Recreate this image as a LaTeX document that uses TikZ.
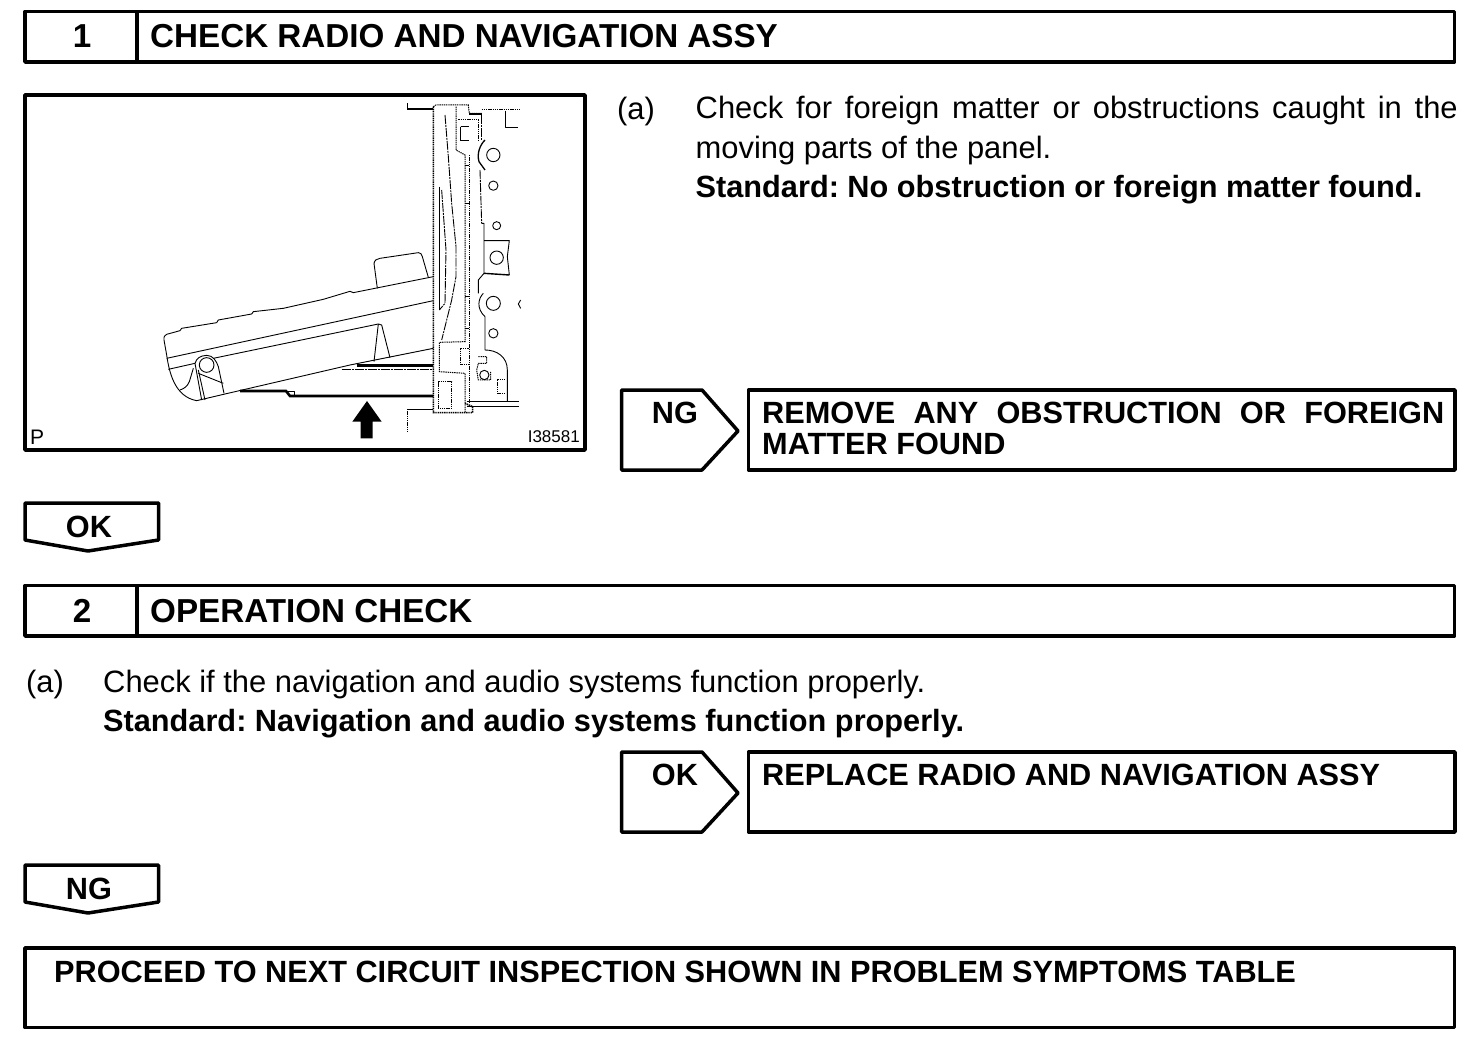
\documentclass[tikz,border=0pt]{standalone}
\usepackage{fontspec}
\setmainfont{Liberation Sans}
\begin{document}
\frenchspacing
\begin{tikzpicture}[x=1pt,y=-1pt,
  box/.style={draw=black,line width=3.5pt,line join=round},
  cellbox/.style={box,anchor=north west,inner sep=0pt,outer sep=0pt},
  head/.style={font=\fontsize{33.2}{33.2}\selectfont\bfseries,inner sep=0pt,anchor=base west},
  sub/.style={font=\fontsize{30.7}{30.7}\selectfont\bfseries,inner sep=0pt,anchor=base west},
  body/.style={font=\fontsize{30.9}{39.5}\selectfont,inner sep=0pt,anchor=north west},
  bodyb/.style={font=\fontsize{30.7}{39.5}\selectfont\bfseries,inner sep=0pt,anchor=base west},
  fine/.style={line width=0.9pt,line join=round},
  dotl/.style={line width=1pt,dash pattern=on 1.4pt off 0.8pt},
  dashl/.style={line width=0.9pt,dash pattern=on 9pt off 1pt on 2pt off 1pt},
  heavy/.style={line width=2.6pt}]
\useasboundingbox (0,0) rectangle (1472,1040);
\fill[white] (0,0) rectangle (1472,1040);
% header 1
\node[cellbox,minimum width=112pt,minimum height=50.5pt] (numA) at (25,11.5) {};
\node[cellbox,minimum width=1317.5pt,minimum height=50.5pt] (titleA) at (137,11.5) {};
\node[head,anchor=base] (numAt) at (82,48) {1};
\node[head] (titleAt) at (150,48) {CHECK RADIO AND NAVIGATION ASSY};
% figure frame
\node[cellbox,minimum width=560pt,minimum height=355pt] (figure) at (25,95) {};
\begin{scope}[shift={(150,90)},xscale=1/3,yscale=1/3]
% panel
\draw[fine] (682,595) -- (672,520) .. controls (674,510) and (680,507) .. (690,505) -- (805,488) .. controls (812,488) and (815,492) .. (817,500) -- (835,562);
\draw[fine] (850,560) -- (610,608) -- (600,604) -- (520,628) -- (400,655) -- (310,665) -- (305,672) -- (205,690) -- (200,698) -- (95,715) -- (90,722) -- (50,733) .. controls (44,735) and (41,740) .. (42,750) -- (50,795) .. controls (58,850) and (75,920) .. (140,932) -- (225,912) -- (600,825) -- (850,775);
\draw[fine] (50,805) -- (850,632);
\draw[fine] (55,838) -- (135,820);
\draw[fine] (190,805) -- (685,702) -- (695,705) -- (720,803);
\draw[fine] (685,702) -- (672,815);
\draw[fine] (170,825) circle[radius=22];
\draw[fine] (135,820) .. controls (140,805) and (150,797) .. (170,796) .. controls (190,796) and (200,815) .. (205,830) -- (222,910);
\draw[fine] (135,820) -- (155,930) (145,840) -- (165,930);
\draw[fine] (130,835) -- (118,875) .. controls (112,890) and (100,897) .. (90,900);
\draw[fine] (145,850) -- (220,880);
\draw[heavy] (620,826) -- (850,826);
\draw[dashl] (575,837) -- (850,837);
\draw[heavy] (270,903) -- (408,903) -- (420,918) -- (850,918);
\draw[fine] (415,903) -- (433,903) -- (433,915);
% housing
\draw[dotl,line width=1.6pt] (850,50) -- (850,968) -- (968,968) -- (968,950) -- (945,940);
\draw[dotl] (850,50) -- (858,45) -- (955,45) -- (958,70) -- (995,70);
\draw[heavy,line width=1.4pt] (772,40) -- (772,57) -- (850,57);
\draw[heavy,line width=1.4pt] (958,72) -- (995,72);
\draw[dotl] (995,60) -- (1112,60);
\draw[fine] (1067,62) -- (1067,113) -- (1105,113);
\draw[dashl] (885,75) -- (895,200) -- (905,340) -- (918,470) -- (918,560) -- (905,630) -- (875,750);
\draw[fine,line width=1.2pt] (868,290) -- (868,660);
\draw[dashl] (875,300) -- (888,480) -- (885,640) -- (868,660);
\draw[dotl] (918,50) -- (918,180) -- (945,195) -- (945,755) -- (868,757) -- (868,845) -- (945,850) -- (945,968);
\draw[fine] (932,110) -- (958,110) (932,110) -- (932,152);
\draw[heavy,line width=1.4pt] (932,152) -- (958,152);
\draw[dotl] (925,90) -- (985,90) -- (985,150);
\draw[dotl] (958,195) -- (958,940);
\draw[dashl] (995,75) -- (995,150);
\draw[fine,line width=1.3pt] (1005,150) .. controls (990,165) and (980,190) .. (987,215) -- (1005,240);
\draw[dashl] (990,240) -- (995,400);
\draw[fine] (995,400) -- (1002,400) -- (1002,550) -- (985,570) -- (985,610);
\draw[fine] (1000,610) .. controls (985,625) and (978,655) .. (1005,680) -- (1005,780) .. controls (1040,780) and (1072,800) .. (1072,840) -- (1072,935);
\draw[fine] (945,225) -- (958,225) (945,340) -- (958,340) (945,620) -- (958,620) (945,715) -- (958,715);
\draw[fine] (1002,452) -- (1078,452) -- (1072,500) -- (1078,555);
\draw[heavy,line width=1.4pt] (1002,550) -- (1078,555);
\draw[fine] (1030,195) circle[radius=20];
\draw[fine] (1030,287) circle[radius=14];
\draw[fine] (1040,407) circle[radius=12];
\draw[fine] (1040,503) circle[radius=20];
\draw[fine] (1030,640) circle[radius=21];
\draw[fine] (1030,730) circle[radius=14];
\draw[fine] (1003,855) circle[radius=14];
\draw[fine] (1112,630) -- (1105,642) -- (1112,655);
\draw[dotl] (985,800) -- (1010,800) -- (1010,820) -- (985,820) -- (980,840) -- (985,870) -- (1022,870) -- (1022,845);
\draw[dotl] (1042,870) -- (1065,870) (1042,870) -- (1042,910) -- (1065,910);
\draw[fine] (950,935) -- (1108,935) (950,948) -- (1108,948);
\draw[dotl] (932,775) -- (958,775) (932,775) -- (932,825) -- (958,825);
\draw[dotl] (865,875) -- (905,875) -- (905,955) -- (865,955) -- cycle;
\draw[fine] (772,957) -- (850,957);
\draw[dotl] (772,957) -- (772,1025);
\fill[black] (651,933) -- (695,995) -- (668,995) -- (668,1045) -- (632,1045) -- (632,995) -- (607,995) -- cycle;
\end{scope}
\node[font=\fontsize{21}{21}\selectfont,inner sep=0pt,anchor=base west] (figP) at (30,444) {P};
\node[font=\fontsize{17}{17}\selectfont,inner sep=0pt,anchor=base east] (figId) at (580,442) {I38581};
% step (a)
\node[body,anchor=base west] (aA) at (617,120) {(a)};
\node[body,text width=762pt,align=justify] (textA) at (695.5,96) {Check for foreign matter or obstructions caught in the moving parts of the panel.\\ {\fontsize{30.7}{39.5}\selectfont\bfseries Standard: No obstruction or foreign matter found.}};
% NG flag
\draw[box] (621.5,390) -- (702,390) -- (738,431) -- (702,470) -- (621.5,470) -- cycle;
\node[sub,anchor=base] (ngA) at (675,423) {NG};
\node[cellbox,minimum width=706.5pt,minimum height=80pt] (resA) at (748.5,390) {};
\node[sub,anchor=north west,text width=682pt,align=justify,font=\fontsize{30.7}{31}\selectfont\bfseries] (resAt) at (762,402) {REMOVE ANY OBSTRUCTION OR FOREIGN MATTER FOUND};
% OK down flag
\draw[box] (25,503) -- (158.5,503) -- (158.5,540) -- (88,551) -- (25,540) -- cycle;
\node[sub,anchor=base] (okA) at (89,537) {OK};
% header 2
\node[cellbox,minimum width=112pt,minimum height=50.5pt] (numB) at (25,585.5) {};
\node[cellbox,minimum width=1317.5pt,minimum height=50.5pt] (titleB) at (137,585.5) {};
\node[head,anchor=base] (numBt) at (82,622) {2};
\node[head] (titleBt) at (150,622) {OPERATION CHECK};
% step 2 (a)
\node[body,anchor=base west] (aB) at (26,692) {(a)};
\node[body,anchor=base west] (textB) at (103,692) {Check if the navigation and audio systems function properly.};
\node[bodyb] (stdB) at (103,731) {Standard: Navigation and audio systems function properly.};
% OK flag
\draw[box] (621.5,752) -- (702,752) -- (738,793) -- (702,832) -- (621.5,832) -- cycle;
\node[sub,anchor=base] (okB) at (675,785) {OK};
\node[cellbox,minimum width=706.5pt,minimum height=80pt] (resB) at (748.5,752) {};
\node[sub] (resBt) at (762,785) {REPLACE RADIO AND NAVIGATION ASSY};
% NG down flag
\draw[box] (25,865) -- (158.5,865) -- (158.5,902) -- (88,913) -- (25,902) -- cycle;
\node[sub,anchor=base] (ngB) at (89,899) {NG};
% final
\node[cellbox,minimum width=1429.5pt,minimum height=79.5pt] (final) at (25,948) {};
\node[sub] (finalt) at (54,982) {PROCEED TO NEXT CIRCUIT INSPECTION SHOWN IN PROBLEM SYMPTOMS TABLE};
\end{tikzpicture}
\end{document}
